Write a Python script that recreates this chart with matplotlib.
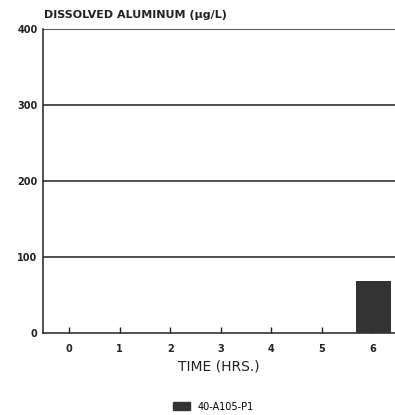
import numpy as np
import matplotlib
matplotlib.use('Agg')
import matplotlib.pyplot as plt
from matplotlib.patches import Patch

# data
hours = ['0', '1', '2', '3', '4', '5', '6']
aluminum = [0, 0, 0, 0, 0, 0, 68]
series_name = '40-A105-P1'
yticks = [0, 100, 200, 300, 400]

fig = plt.figure(figsize=(3.95, 4.15), dpi=100)
ax = fig.add_axes([0.109, 0.198, 0.891, 0.732])

x = np.arange(len(hours))
ax.bar(x + 0.03, aluminum, width=0.7, color='#333333', zorder=3)

ax.set_xlim(-0.52, 6.45)
ax.set_ylim(0, 400)
ax.set_yticks(yticks)
ax.set_yticklabels([str(v) for v in yticks], fontsize=7, fontweight='bold')
ax.set_xticks(x)
ax.set_xticklabels(hours, fontsize=7, fontweight='bold')
ax.tick_params(axis='x', direction='in', length=4, width=1, pad=8, colors='#222222')
ax.tick_params(axis='y', length=0, pad=4, colors='#222222')

# horizontal grid lines
for v in yticks[1:]:
    ax.axhline(v, color='#222222', lw=1.1, zorder=1)

ax.spines['right'].set_visible(False)
ax.spines['top'].set_visible(False)
ax.spines['left'].set_color('#222222')
ax.spines['bottom'].set_color('#222222')
ax.spines['left'].set_linewidth(1.1)
ax.spines['bottom'].set_linewidth(1.1)

fig.text(0.111, 0.952, 'DISSOLVED ALUMINUM (\u00b5g/L)', fontsize=8,
         fontweight='bold', color='#222222', ha='left', va='bottom')
ax.set_xlabel('TIME (HRS.)', fontsize=10, fontweight='medium', color='#222222', labelpad=4)

fig.legend(handles=[Patch(color='#333333', label=series_name)],
           loc='center', bbox_to_anchor=(0.54, 0.02), frameon=False,
           fontsize=7, handlelength=1.8, handleheight=0.9)

fig.savefig('out.png', dpi=100)
